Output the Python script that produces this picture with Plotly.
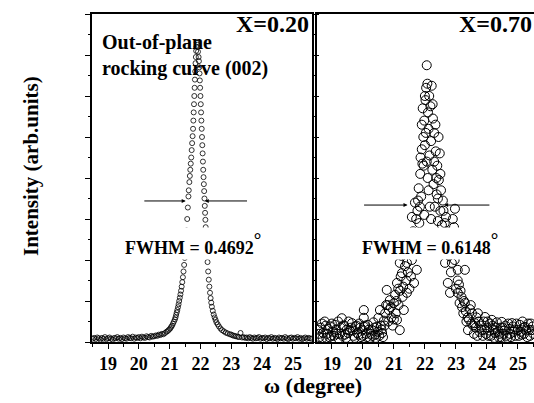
import plotly.graph_objects as go

# ---------------- data ----------------
# Left panel: X = 0.20
omega_a = [18.50, 18.55, 18.60, 18.65, 18.70, 18.75, 18.80, 18.85, 18.90, 18.95,
           19.00, 19.05, 19.10, 19.15, 19.20, 19.25, 19.30, 19.35, 19.40, 19.45,
           19.50, 19.55, 19.60, 19.65, 19.70, 19.75, 19.80, 19.85, 19.90, 19.95,
           20.00, 20.05, 20.10, 20.15, 20.20, 20.25, 20.30, 20.35, 20.40, 20.45,
           20.50, 20.55, 20.60, 20.65, 20.70,
           20.75, 20.80, 20.85, 20.90, 20.94, 20.98, 21.02, 21.05, 21.08, 21.11,
           21.14, 21.17, 21.19, 21.21, 21.23, 21.25, 21.27, 21.29, 21.31, 21.33,
           21.35, 21.37, 21.39, 21.41, 21.43, 21.45, 21.47, 21.49, 21.51, 21.53,
           21.55, 21.57, 21.59, 21.61, 21.64, 21.67, 21.70, 21.73, 21.76, 21.78,
           21.80, 21.82, 21.84, 21.86, 21.88, 21.90, 21.92,
           21.62, 21.655, 21.685, 21.715, 21.745, 21.77, 21.79, 21.81, 21.83, 21.85, 21.87,
           21.95, 21.97, 21.99, 22.01, 22.03, 22.05, 22.07, 22.09, 22.11, 22.13,
           21.94, 21.96, 21.98, 22.00, 22.02, 22.04, 22.06, 22.08, 22.10, 22.12, 22.14, 22.16,
           22.15, 22.17, 22.19, 22.21, 22.23, 22.25, 22.27, 22.29, 22.31, 22.33,
           22.35, 22.37, 22.40, 22.43, 22.46, 22.49, 22.52, 22.56, 22.60, 22.65,
           22.70, 22.76, 22.82, 22.88, 22.95, 23.00, 23.05, 23.10, 23.15, 23.20,
           23.25, 23.30, 23.35, 23.40, 23.45, 23.50, 23.55, 23.60, 23.65, 23.70,
           23.75, 23.80, 23.85, 23.90, 23.95, 24.00, 24.05, 24.10, 24.15, 24.20,
           24.25, 24.30, 24.35, 24.40, 24.45, 24.50, 24.55, 24.60, 24.65, 24.70,
           24.75, 24.80, 24.85, 24.90, 24.95, 25.00, 25.05, 25.10, 25.15, 25.20,
           25.25, 25.30, 25.35, 25.40, 25.45, 25.50, 25.55, 25.60]
int_a = [0.08, 0.10, 0.07, 0.11, 0.09, 0.06, 0.10, 0.08, 0.12, 0.07,
         0.09, 0.11, 0.08, 0.06, 0.10, 0.09, 0.12, 0.08, 0.10, 0.07,
         0.11, 0.09, 0.08, 0.12, 0.10, 0.09, 0.13, 0.08, 0.11, 0.10,
         0.12, 0.09, 0.13, 0.11, 0.10, 0.14, 0.12, 0.11, 0.15, 0.13,
         0.14, 0.16, 0.15, 0.18, 0.17,
         0.20, 0.19, 0.22, 0.25, 0.27, 0.30, 0.33, 0.37, 0.40, 0.45,
         0.50, 0.55, 0.60, 0.66, 0.72, 0.78, 0.85, 0.92, 1.00, 1.08,
         1.16, 1.25, 1.35, 1.46, 1.58, 1.72, 1.88, 2.05, 2.25, 2.48,
         2.72, 3.00, 3.28, 3.55, 3.90, 4.20, 4.50, 4.85, 5.20, 5.60,
         6.00, 6.40, 6.80, 7.10, 7.30, 7.25, 7.08,
         3.70, 4.05, 4.35, 4.68, 5.02, 5.40, 5.80, 6.20, 6.60, 6.95, 7.20,
         6.85, 6.55, 6.20, 5.80, 5.40, 5.00, 4.60, 4.20, 3.85, 3.50,
         6.95, 6.70, 6.38, 6.00, 5.60, 5.20, 4.80, 4.40, 4.02, 3.68, 3.32, 2.98,
         3.15, 2.80, 2.48, 2.20, 1.95, 1.72, 1.52, 1.35, 1.20, 1.07,
         0.96, 0.86, 0.76, 0.67, 0.60, 0.54, 0.48, 0.43, 0.38, 0.33,
         0.29, 0.26, 0.23, 0.21, 0.19, 0.18, 0.16, 0.15, 0.14, 0.13,
         0.12, 0.22, 0.11, 0.12, 0.10, 0.11, 0.09, 0.12, 0.10, 0.08,
         0.11, 0.09, 0.10, 0.12, 0.08, 0.10, 0.09, 0.11, 0.07, 0.10,
         0.09, 0.12, 0.08, 0.10, 0.09, 0.07, 0.11, 0.09, 0.10, 0.08,
         0.12, 0.09, 0.07, 0.10, 0.11, 0.08, 0.10, 0.09, 0.12, 0.08,
         0.10, 0.07, 0.09, 0.11, 0.08, 0.10, 0.09, 0.08]

# Right panel: X = 0.70
omega_b = [18.55, 18.60, 18.68, 18.72, 18.77, 18.82, 18.88, 18.94, 18.98, 19.04,
           19.10, 19.16, 19.22, 19.28, 19.32, 19.36, 19.42, 19.48, 19.54, 19.58,
           19.65, 19.70, 19.76, 19.82, 19.88, 19.94, 19.98, 20.03, 20.03, 20.04,
           20.10, 20.16, 20.22, 20.28, 20.34, 20.40, 20.45, 20.50, 20.55, 20.58,
           20.62, 20.68, 20.72, 20.77, 20.80, 20.84, 20.87, 20.92, 20.96, 21.00,
           21.04, 21.10, 21.10, 21.14, 21.19, 21.19, 21.22, 21.26, 21.30, 21.32,
           21.36, 21.42, 21.42, 21.46, 21.50, 21.58, 21.58, 21.62, 21.65, 21.68,
           21.70, 21.74, 21.76, 21.80, 21.82, 21.85, 21.88, 21.90, 21.92, 21.95,
           21.98, 21.98, 22.00, 22.02, 22.04, 22.06, 22.08, 22.10, 22.12, 22.15,
           22.18, 22.20, 22.22, 22.24, 22.26, 22.28, 22.30, 22.32, 22.35, 22.38,
           22.40, 22.42, 22.45, 22.48, 22.50, 22.55, 22.58, 22.62, 22.65, 22.68,
           22.72, 22.74, 22.78, 22.81, 22.84, 22.87, 22.90, 22.94, 22.97, 23.00,
           23.06, 23.06, 23.06, 23.12, 23.18, 23.24, 23.29, 23.29, 23.34, 23.39,
           23.45, 23.52, 23.56, 23.61, 23.66, 23.71, 23.76, 23.84, 23.90, 23.94,
           24.00, 24.05, 24.10, 24.16, 24.21, 24.26, 24.32, 24.38, 24.44, 24.48,
           24.54, 24.60, 24.66, 24.72, 24.81, 24.86, 24.92, 25.00, 25.06, 25.12,
           25.18, 25.23, 25.30, 25.36, 25.42, 25.45, 25.50,
           21.72, 21.78, 21.84, 21.86, 21.90, 21.93, 21.96, 22.00, 22.03, 22.06,
           22.09, 22.12, 22.14, 22.16, 22.20, 22.25, 22.30, 22.34, 22.37, 22.42,
           22.44, 22.50, 22.52, 22.60, 22.64, 22.70, 22.76, 22.80, 22.85, 22.92,
           22.96, 23.02, 23.10, 23.15, 23.20, 23.26, 23.32, 23.38, 23.42, 23.48,
           23.50, 21.55, 21.50, 21.45, 21.40, 21.35, 21.28, 21.25, 21.20, 21.15,
           21.08, 21.06, 21.00, 20.90, 20.82, 20.75,
           18.58, 18.64, 18.70, 18.80, 18.85, 18.92, 19.00, 19.07, 19.13, 19.20,
           19.26, 19.34, 19.40, 19.46, 19.52, 19.62, 19.68, 19.74, 19.80, 19.86,
           19.92, 20.00, 20.07, 20.13, 20.19, 20.25, 20.31, 20.37, 20.42, 20.48,
           20.53, 20.60, 20.65, 20.70,
           23.58, 23.64, 23.69, 23.74, 23.80, 23.87, 23.92, 23.97, 24.02, 24.08,
           24.13, 24.19, 24.24, 24.29, 24.35, 24.41, 24.46, 24.51, 24.57, 24.63,
           24.69, 24.75, 24.78, 24.84, 24.89, 24.95, 25.03, 25.09, 25.15, 25.20,
           25.27, 25.33, 25.39, 25.48]
int_b = [0.30, 0.12, 0.45, 0.22, 0.50, 0.10, 0.32, 0.38, 0.15, 0.25,
         0.42, 0.20, 0.08, 0.35, 0.58, 0.40, 0.18, 0.30, 0.50, 0.28,
         0.46, 0.15, 0.38, 0.22, 0.45, 0.12, 0.30, 0.78, 0.59, 0.37,
         0.20, 0.42, 0.10, 0.30, 0.48, 0.18, 0.37, 0.59, 0.78, 0.40,
         0.22, 0.52, 0.70, 1.27, 0.90, 0.78, 1.02, 0.60, 0.40, 0.95,
         1.15, 1.44, 0.54, 1.30, 1.93, 0.29, 1.60, 1.68, 1.35, 0.78,
         1.85, 1.20, 1.93, 2.20, 2.45, 2.00, 3.05, 2.70, 1.44, 3.40,
         2.35, 1.76, 3.20, 3.75, 2.90, 4.10, 3.55, 4.70, 4.35, 5.00,
         3.10, 5.40, 4.80, 5.90, 6.20, 6.75, 6.30, 5.60, 5.20, 4.55,
         5.75, 4.90, 6.25, 4.20, 5.45, 3.85, 5.10, 3.30, 4.65, 3.60,
         4.30, 2.95, 3.95, 4.60, 3.20, 2.85, 3.45, 2.55, 1.93, 3.05,
         2.30, 1.44, 2.10, 1.20, 1.70, 1.93, 3.00, 2.80, 3.25, 1.30,
         1.76, 1.50, 1.20, 0.95, 1.10, 0.70, 1.76, 0.95, 0.50, 0.29,
         0.80, 0.70, 0.40, 0.46, 0.60, 0.70, 0.25, 0.29, 0.50, 0.61,
         0.35, 0.15, 0.45, 0.54, 0.30, 0.22, 0.48, 0.12, 0.35, 0.49,
         0.20, 0.40, 0.10, 0.32, 0.46, 0.25, 0.15, 0.29, 0.42, 0.18,
         0.35, 0.37, 0.12, 0.30, 0.45, 0.29, 0.20,
         3.00, 3.45, 3.30, 4.50, 5.30, 5.70, 4.30, 6.00, 5.10, 4.40,
         4.00, 3.70, 6.00, 3.30, 3.00, 5.80, 4.40, 5.30, 4.00, 3.50,
         5.00, 4.10, 3.70, 3.20, 2.90, 2.70, 2.50, 2.20, 2.60, 2.30,
         2.00, 2.20, 1.40, 1.25, 0.85, 1.00, 0.75, 0.60, 0.55, 0.90,
         0.45, 1.60, 1.30, 1.70, 1.50, 2.40, 1.10, 2.10, 1.25, 0.90,
         1.00, 0.70, 0.55, 0.85, 0.50, 0.90,
         0.20, 0.35, 0.10, 0.40, 0.20, 0.12, 0.45, 0.15, 0.30, 0.50,
         0.20, 0.15, 0.40, 0.10, 0.22, 0.35, 0.28, 0.10, 0.40, 0.18,
         0.35, 0.15, 0.40, 0.12, 0.30, 0.20, 0.15, 0.35, 0.10, 0.25,
         0.15, 0.30, 0.12, 0.40,
         0.20, 0.35, 0.15, 0.50, 0.40, 0.15, 0.30, 0.20, 0.50, 0.28,
         0.15, 0.40, 0.10, 0.35, 0.25, 0.20, 0.12, 0.35, 0.28, 0.15,
         0.45, 0.20, 0.12, 0.38, 0.30, 0.45, 0.15, 0.25, 0.50, 0.20,
         0.28, 0.45, 0.15, 0.38]

x_ticks = [19, 20, 21, 22, 23, 24, 25]
panel_labels = ["X=0.20", "X=0.70"]
fwhm_values = ["0.4692", "0.6148"]

# ---------------- figure ----------------
W, H = 534, 403
FONT = "Liberation Serif"


def px_x(p):
    return p / W


def px_y(p):
    return 1 - p / H


fig = go.Figure()
fig.add_trace(go.Scatter(
    x=omega_a, y=int_a, mode="markers", xaxis="x", yaxis="y",
    marker=dict(symbol="circle-open", size=5, color="black", line=dict(width=0.8)),
    showlegend=False, hoverinfo="skip"))
fig.add_trace(go.Scatter(
    x=omega_b, y=int_b, mode="markers", xaxis="x2", yaxis="y2",
    marker=dict(symbol="circle-open", size=9, color="black", line=dict(width=1)),
    showlegend=False, hoverinfo="skip"))

ydom = [px_y(342), px_y(14)]
tickfont = dict(family=FONT, size=18, color="black", weight="bold")

xcommon = dict(showline=True, linecolor="black", linewidth=1.5, mirror=True,
               ticks="outside", ticklen=5, tickwidth=1.2, tickcolor="black",
               tickvals=x_ticks, ticktext=["<b>%d</b>" % t for t in x_ticks],
               tickfont=tickfont, showgrid=False, zeroline=False,
               minor=dict(dtick=0.5, tick0=0, ticks="outside", ticklen=3,
                          tickwidth=1, tickcolor="black", showgrid=False))

fig.update_layout(
    width=W, height=H, margin=dict(l=0, r=0, t=0, b=0),
    paper_bgcolor="white", plot_bgcolor="white", showlegend=False,
    xaxis=dict(domain=[px_x(92), px_x(312)], range=[18.48, 25.62], anchor="y", **xcommon),
    yaxis=dict(domain=ydom, range=[0, 8], anchor="x", showline=True, linecolor="black",
               linewidth=1.5, mirror="ticks", ticks="outside", ticklen=5, tickwidth=1.2,
               tickcolor="black", dtick=1, tick0=0, showticklabels=False,
               showgrid=False, zeroline=False,
               minor=dict(dtick=0.5, tick0=0, ticks="outside", ticklen=2,
                          tickwidth=1, tickcolor="black", showgrid=False)),
    xaxis2=dict(domain=[px_x(317), 1.0], range=[18.52, 25.52], anchor="y2", **xcommon),
    yaxis2=dict(domain=ydom, range=[0, 8], anchor="x2", showline=True, linecolor="black",
                linewidth=1.5, mirror=False, ticks="", showticklabels=False,
                showgrid=False, zeroline=False),
    yaxis3=dict(overlaying="y2", anchor="x2", side="right", range=[0, 8],
                showline=False, ticks="inside", ticklen=6, tickwidth=1.2,
                tickcolor="black", tick0=0, dtick=1.146, showticklabels=False,
                showgrid=False, zeroline=False,
                minor=dict(dtick=0.573, tick0=0, ticks="inside", ticklen=3,
                           tickwidth=1, tickcolor="black", showgrid=False)),
)

bold = lambda s: "<b>" + s + "</b>"
deg = "<sup><span style='font-size:19px'>°</span></sup>"
ann = []
# panel labels
ann.append(dict(xref="paper", yref="paper", x=px_x(311), y=px_y(9), xanchor="right",
                yanchor="top", text=bold(panel_labels[0]), showarrow=False,
                font=dict(family=FONT, size=24, color="black")))
ann.append(dict(xref="paper", yref="paper", x=px_x(457), y=px_y(9), xanchor="left",
                yanchor="top", text=bold(panel_labels[1]), showarrow=False,
                font=dict(family=FONT, size=24, color="black")))
# description
ann.append(dict(xref="paper", yref="paper", x=px_x(100), y=px_y(29), xanchor="left",
                yanchor="top", align="left",
                text=bold("Out-of-plane<br>rocking curve (002)"), showarrow=False,
                font=dict(family=FONT, size=20, color="black")))
# FWHM labels (white background hides the points beneath)
ann.append(dict(xref="paper", yref="paper", x=px_x(193), y=px_y(243), xanchor="center",
                yanchor="middle", text=bold("FWHM = " + fwhm_values[0] + deg),
                showarrow=False, bgcolor="white", borderpad=1,
                font=dict(family=FONT, size=18, color="black")))
ann.append(dict(xref="paper", yref="paper", x=px_x(430), y=px_y(243), xanchor="center",
                yanchor="middle", text=bold("FWHM = " + fwhm_values[1] + deg),
                showarrow=False, bgcolor="white", borderpad=1,
                font=dict(family=FONT, size=18, color="black")))
# FWHM arrows
arrow_style = dict(text="", showarrow=True, arrowhead=2, arrowsize=0.8, arrowwidth=1,
                   arrowcolor="black", standoff=0, startstandoff=0)
ann.append(dict(xref="x", yref="y", axref="x", ayref="y", x=21.52, y=3.44,
                ax=20.13, ay=3.44, **arrow_style))
ann.append(dict(xref="x", yref="y", axref="x", ayref="y", x=22.14, y=3.44,
                ax=23.56, ay=3.44, **arrow_style))
ann.append(dict(xref="x2", yref="y2", axref="x2", ayref="y2", x=21.44, y=3.34,
                ax=19.99, ay=3.34, **arrow_style))
ann.append(dict(xref="x2", yref="y2", axref="x2", ayref="y2", x=22.62, y=3.34,
                ax=24.13, ay=3.34, **arrow_style))
# axis titles
ann.append(dict(xref="paper", yref="paper", x=px_x(313), y=px_y(385), xanchor="center",
                yanchor="middle", text=bold("ω (degree)"), showarrow=False,
                font=dict(family=FONT, size=22, color="black")))
ann.append(dict(xref="paper", yref="paper", x=px_x(31), y=px_y(166), xanchor="center",
                yanchor="middle", text=bold("Intensity (arb.units)"), showarrow=False,
                textangle=-90, font=dict(family=FONT, size=21, color="black")))

fig.update_layout(annotations=ann)
fig.write_html("out.html", config={"displayModeBar": False},
               post_script="document.body.style.margin='0px';")
